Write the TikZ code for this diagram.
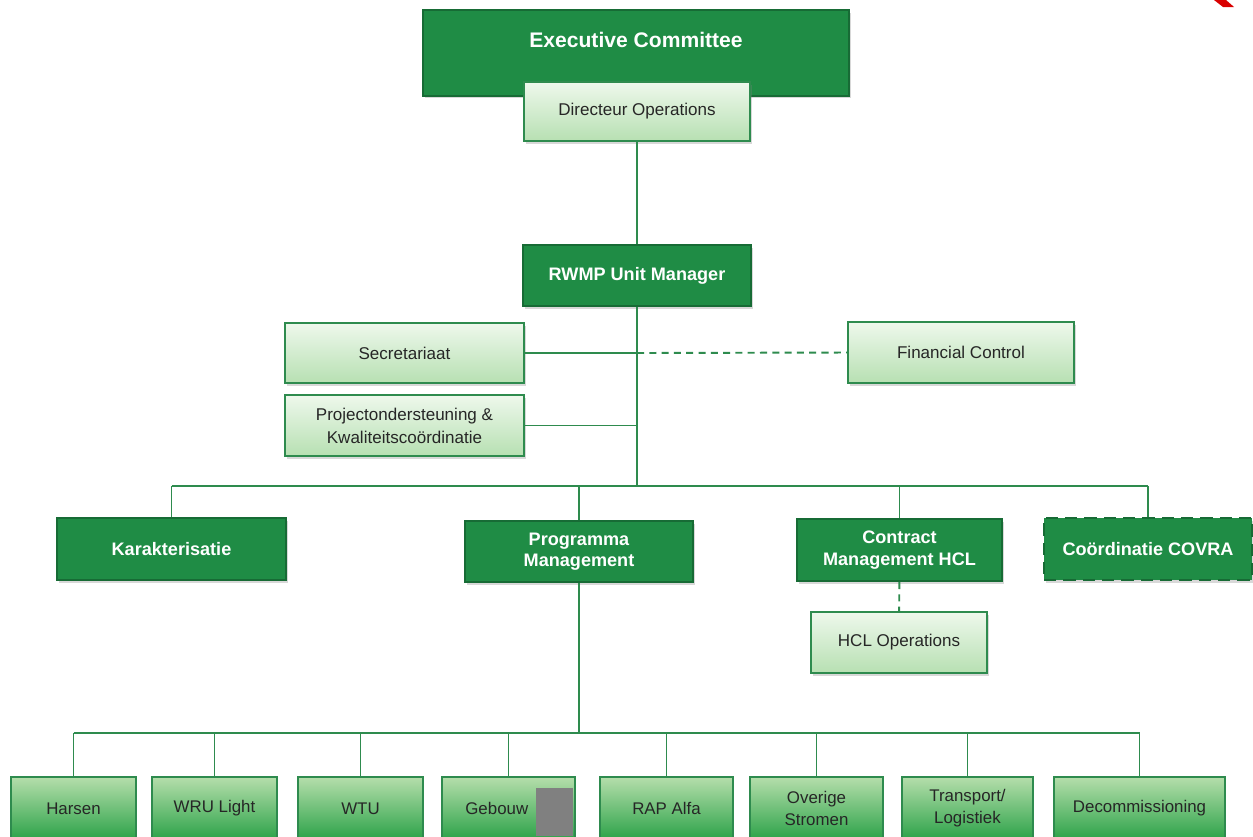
\documentclass[tikz,border=0pt]{standalone}
\usepackage{fontspec}
\setmainfont{Liberation Sans}
\usetikzlibrary{shadows}

\definecolor{rwmpdark}{HTML}{1F8C45}
\definecolor{rwmpedge}{HTML}{176B35}
\definecolor{rwmpline}{HTML}{2E8B4E}
\definecolor{rwmppale}{HTML}{EEF8EC}
\definecolor{rwmpsoft}{HTML}{B7E0B2}
\definecolor{rwmpleaftop}{HTML}{B5DEAB}
\definecolor{rwmpleafbot}{HTML}{2BA248}

\tikzset{
  unit/.style={rectangle, draw=rwmpedge, line width=1.1pt, fill=rwmpdark, text=white,
    font=\bfseries\fontsize{10.3}{12.3}\selectfont, align=center, inner sep=0pt,
    drop shadow={shadow xshift=0.04cm, shadow yshift=-0.05cm, opacity=0.3}},
  staff/.style={rectangle, draw=rwmpline, line width=1pt, top color=rwmppale, bottom color=rwmpsoft,
    text=black!85, font=\fontsize{9.7}{13}\selectfont, align=center, inner sep=0pt,
    drop shadow={shadow xshift=0.04cm, shadow yshift=-0.05cm, opacity=0.3}},
  team/.style={rectangle, draw=rwmpline, line width=1pt, top color=rwmpleaftop, bottom color=rwmpleafbot,
    text=black!85, font=\fontsize{9.6}{12.5}\selectfont, align=center, inner sep=0pt,
    minimum height=1.26cm},
  link/.style={draw=rwmpline, line width=1.1pt},
  softlink/.style={link, dashed, dash pattern=on 4pt off 3pt}
}

\begin{document}
\begin{tikzpicture}[x=0.02cm, y=-0.02cm]
\clip (0,0) rectangle (1253,836);
\fill[white] (0,0) rectangle (1253,836);

% top of the organisation
\node (exec) [unit, minimum width=8.52cm, minimum height=1.72cm, text height=0.3cm, text depth=0.53cm,
  font=\bfseries\fontsize{12}{14}\selectfont] at (636,53) {Executive Committee};
\node (dirops) [staff, minimum width=4.52cm, minimum height=1.18cm] at (637,111.5) {Directeur Operations};
\node (rwmp) [unit, minimum width=4.56cm, minimum height=1.22cm] at (637,275.5) {RWMP Unit Manager};

% staff functions
\node (secr) [staff, minimum width=4.78cm, minimum height=1.2cm] at (404.5,353) {Secretariaat};
\node (fin) [staff, minimum width=4.52cm, minimum height=1.22cm] at (961,352.5) {Financial Control};
\node (proj) [staff, minimum width=4.78cm, minimum height=1.22cm] at (404.5,425.5) {Projectondersteuning \&\\Kwaliteitscoördinatie};

% departments
\node (kar) [unit, minimum width=4.58cm, minimum height=1.24cm] at (171.5,549) {Karakterisatie};
\node (prog) [unit, minimum width=4.56cm, minimum height=1.22cm] at (579,551.5) {Programma\\Management};
\node (contr) [unit, minimum width=4.1cm, minimum height=1.24cm] at (899.5,550) {Contract\\Management HCL};
\node (covra) [unit, minimum width=4.16cm, minimum height=1.24cm, dashed, dash pattern=on 7pt off 4pt,
  line width=1.6pt] at (1148,549) {Coördinatie COVRA};
\node (hclops) [staff, minimum width=3.52cm, minimum height=1.22cm] at (899,642.5) {HCL Operations};

% programme teams
\foreach \name/\cx/\w/\txt in {harsen/73.5/2.5/Harsen, wru/214.5/2.5/WRU Light, wtu/360.5/2.5/WTU,
    gebouw/508.5/2.66/{Gebouw \phantom{22}}, rap/666.5/2.66/RAP Alfa, overige/816.5/2.66/{Overige\\Stromen},
    transp/967.5/2.62/{Transport/\\Logistiek}, decom/1139.5/3.42/Decommissioning}
  \node (\name) [team, minimum width=\w cm] at (\cx,808.5) {\txt};

% connectors
\coordinate (midbus) at (637,486);
\coordinate (lowbus) at (579,733);
\draw [link] (dirops) -- (rwmp);
\draw [link] (rwmp) -- (midbus);
\draw [link] (secr.east) -- (secr.east -| rwmp);
\draw [softlink] (secr.east -| rwmp) -- (fin.west);
\draw [link] (proj.east) -- (proj.east -| rwmp);
\draw [link] (kar.north |- midbus) -- (covra.north |- midbus);
\foreach \dept in {kar, prog, contr, covra}
  \draw [link] (\dept.north |- midbus) -- (\dept.north);
\draw [softlink] (contr) -- (hclops);
\draw [link] (prog) -- (lowbus);
\draw [link] (harsen.north |- lowbus) -- (decom.north |- lowbus);
\foreach \team in {harsen, wru, wtu, gebouw, rap, overige, transp, decom}
  \draw [link] (\team.north |- lowbus) -- (\team.north);

% redaction and page mark
\fill [gray] (536,788) rectangle (573,836);
\fill [red!85!black] (1214,0) -- (1226,0) -- (1234,7) -- (1223,7) -- cycle;
\end{tikzpicture}
\end{document}
